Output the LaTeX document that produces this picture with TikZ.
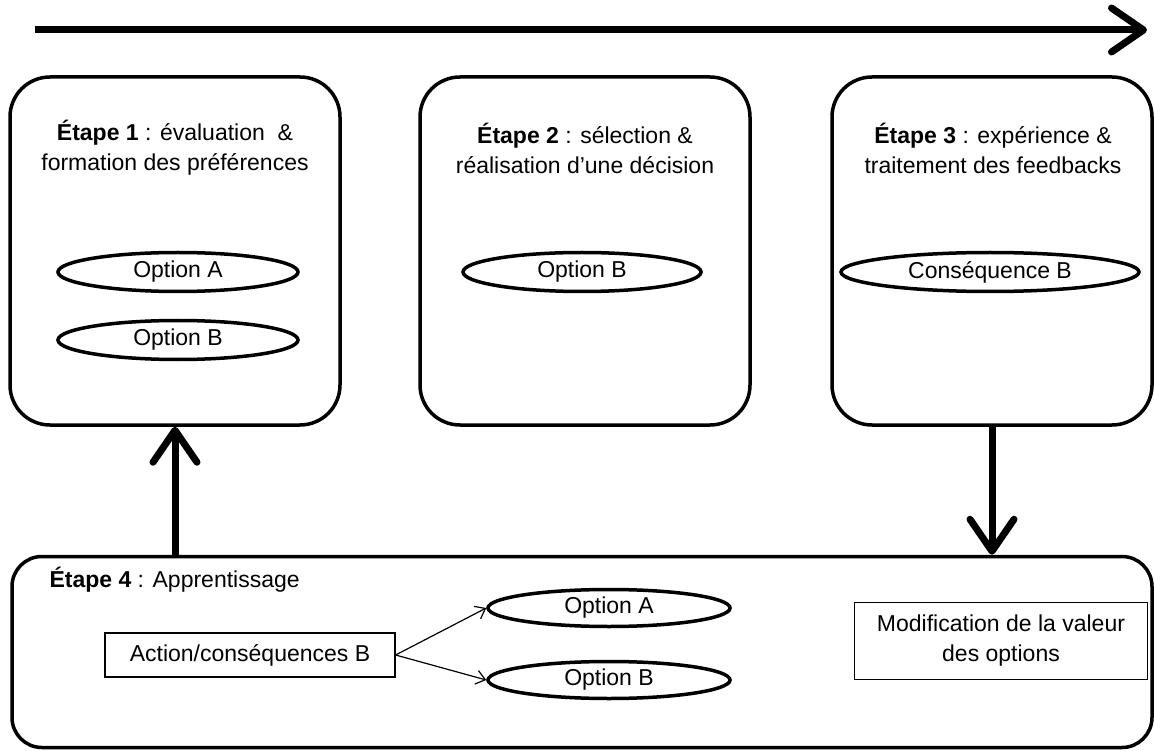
\documentclass[tikz,border=0pt]{standalone}
\usepackage{fontspec}
\setmainfont{Liberation Sans}
\usetikzlibrary{shapes.geometric,arrows.meta}

\begin{document}
\begin{tikzpicture}[x=1pt,y=-1pt,
  every node/.style={font=\fontsize{23}{30}\selectfont},
  etape/.style={draw,line width=3.5pt,rounded corners=40pt,inner sep=0pt},
  option/.style={draw,ellipse,line width=3.5pt,inner sep=0pt,minimum height=39pt},
  cadre/.style={draw,line width=1.2pt,align=center,inner sep=0pt},
  fleche/.style={line width=7pt,-{Straight Barb[length=32pt,width=44pt,round]}},
  petite/.style={line width=1.2pt,-{Straight Barb[length=9pt,width=14pt]}}]
\useasboundingbox (0,0) rectangle (1154,751);
% time line
\coordinate (debut) at (35,30);
\coordinate (fin) at (1147,30);
\draw [fleche] (debut) -- (fin);
% stages 1 to 3
\node [etape,minimum width=330pt,minimum height=348pt] (e1) at (175,251) {};
\node [etape,minimum width=330pt,minimum height=348pt] (e2) at (585,251) {};
\node [etape,minimum width=320pt,minimum height=348pt] (e3) at (992,251) {};
\node [align=center] (t1) at (175,148) {\textbf{Étape 1} : évaluation \ \&\\formation des préférences};
\node [align=center] (t2) at (585,148) {\textbf{Étape 2} : sélection \&\\réalisation d'une décision};
\node [align=center] (t3) at (993,148) {\textbf{Étape 3} : expérience \&\\traitement des feedbacks};
\node [option,minimum width=240pt] (a1) at (178,272) {Option A};
\node [option,minimum width=240pt] (b1) at (178,340) {Option B};
\node [option,minimum width=238pt] (b2) at (582,272) {Option B};
\node [option,minimum width=298pt] (c3) at (990,272) {Conséquence B};
% stage 4
\node [etape,rounded corners=30pt,minimum width=1140pt,minimum height=191pt] (e4) at (582,652) {};
\node [anchor=west] (t4) at (46,580) {\textbf{Étape 4} : Apprentissage};
\node [cadre,minimum width=290pt,minimum height=44pt] (act) at (250,655) {Action/conséquences B};
\node [option,minimum width=242pt,minimum height=37pt] (a4) at (609,608) {Option A};
\node [option,minimum width=242pt,minimum height=37pt] (b4) at (609,680) {Option B};
\node [cadre,minimum width=293pt,minimum height=77pt] (modif) at (1001,641) {Modification de la valeur\\des options};
\draw [petite] (act.east) -- (a4.west);
\draw [petite] (act.east) -- (b4.west);
% loop arrows
\draw [fleche] (e4.north -| e1.south) -- (e1.south);
\draw [fleche] (e3.south) -- (e3.south |- e4.north);
\end{tikzpicture}
\end{document}
